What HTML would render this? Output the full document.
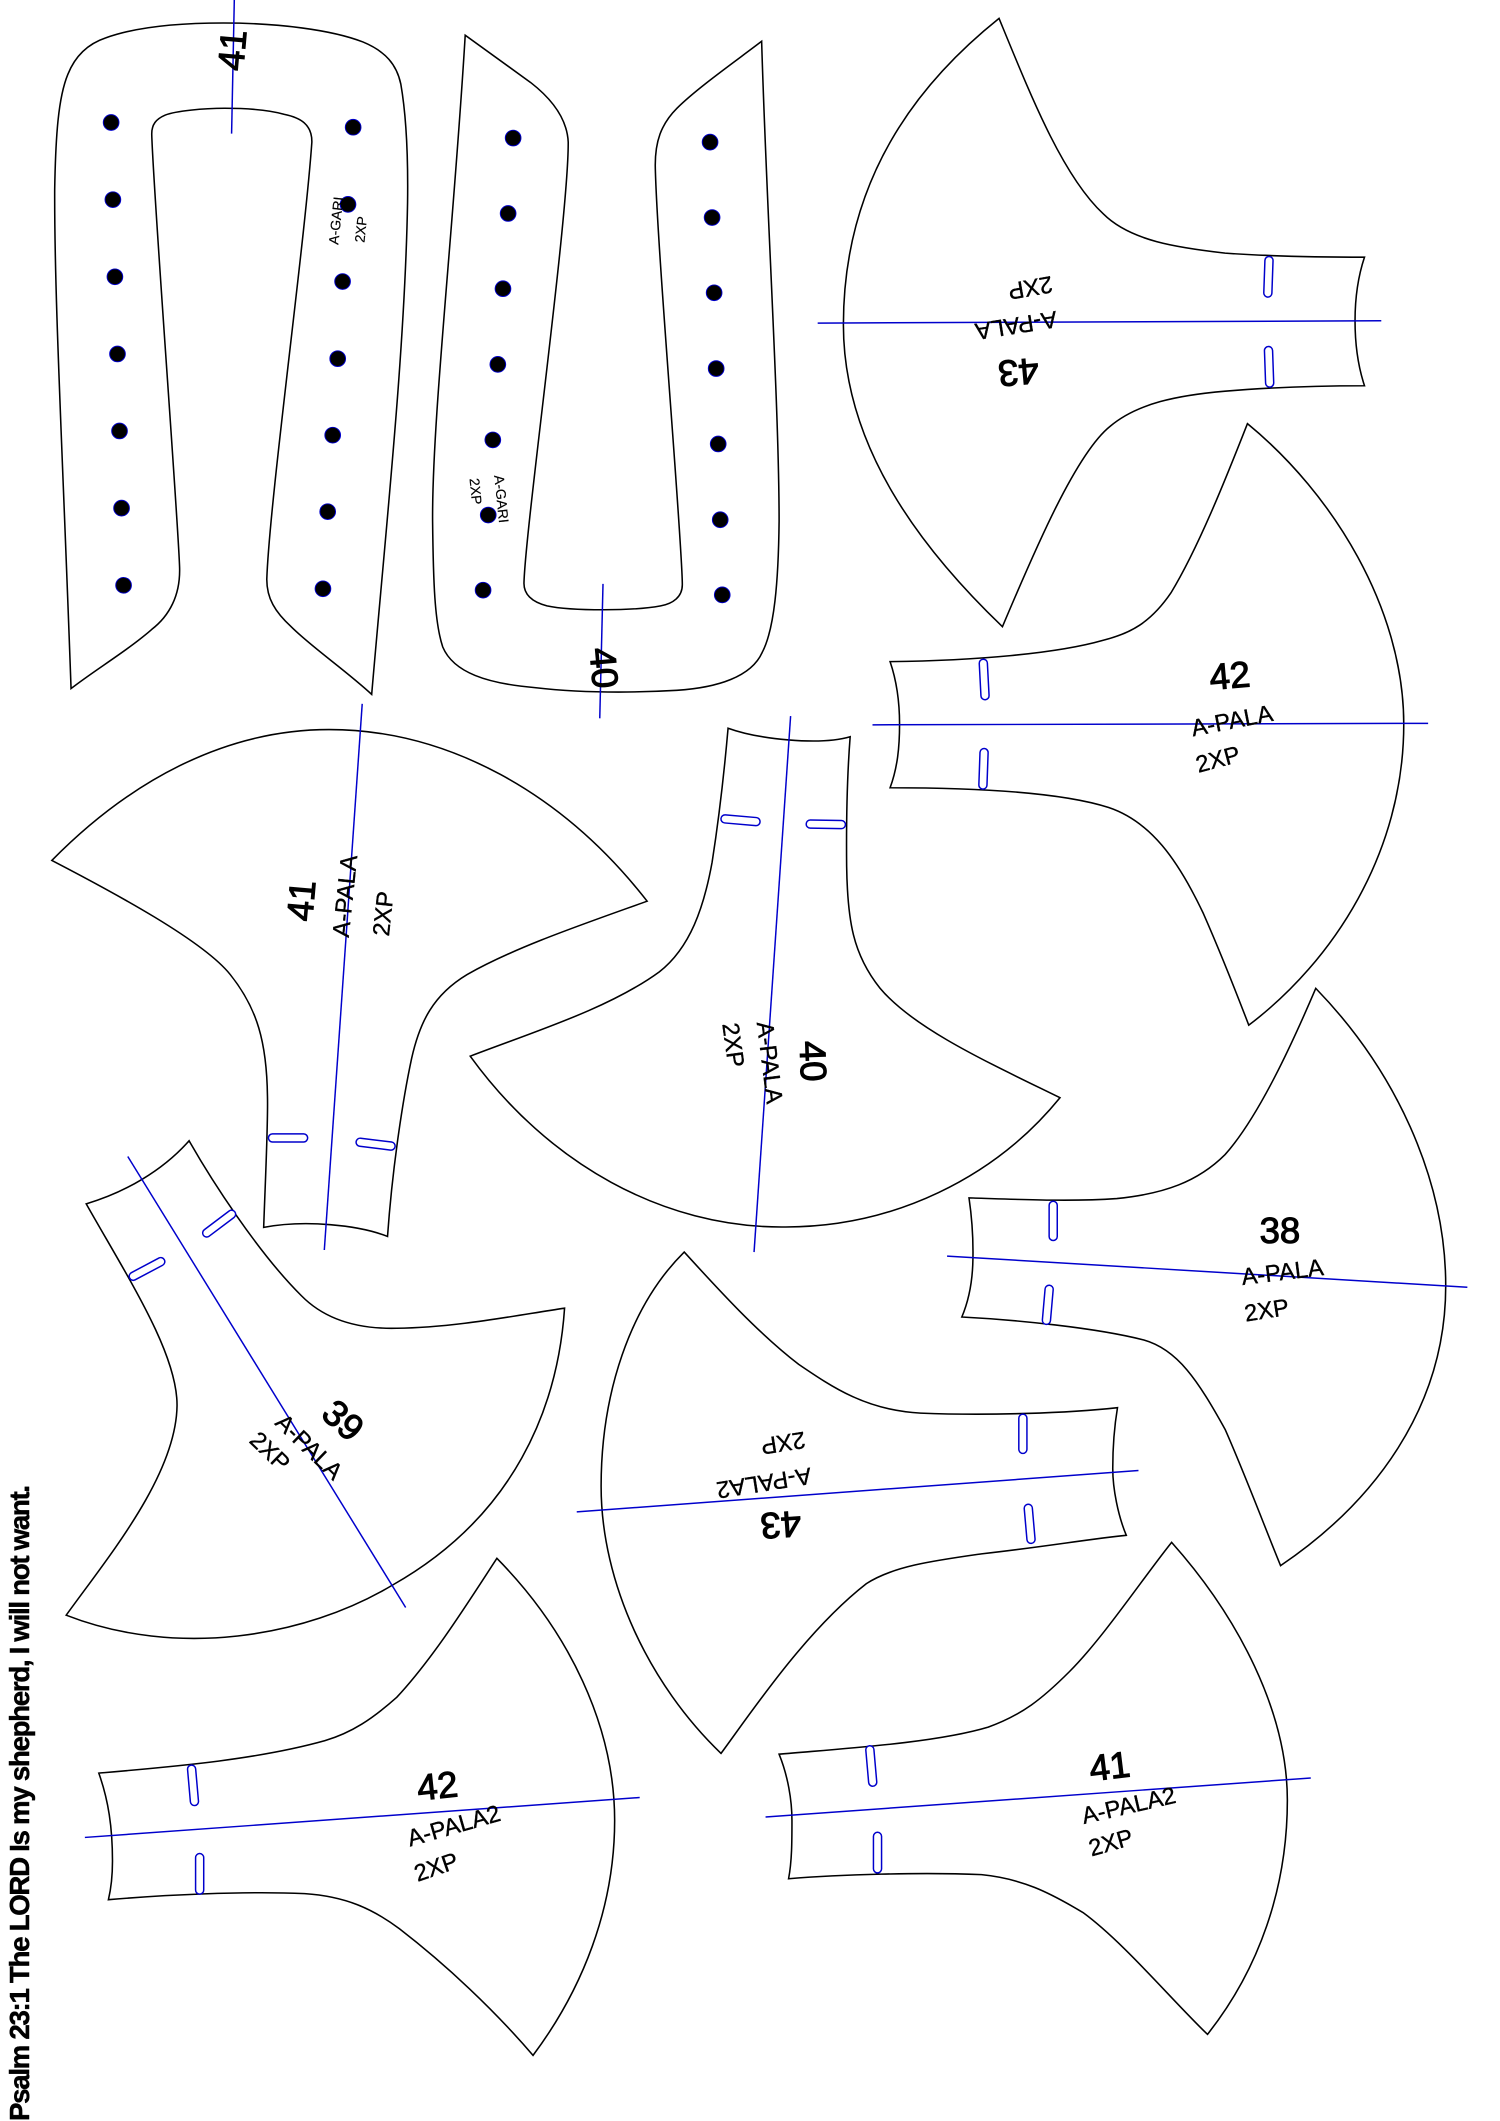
<!DOCTYPE html>
<html><head><meta charset="utf-8"><style>
html,body{margin:0;padding:0;background:#fff}
svg{display:block}
.p{fill:none;stroke:#000;stroke-width:1.15;stroke-linejoin:miter}
.l{stroke:#0000cc;stroke-width:1.1;fill:none}
.d{fill:#000;stroke:#0000cc;stroke-width:.7}
.s{fill:#fff;stroke:#0000cc;stroke-width:1.1}
text{font-family:"Liberation Sans",sans-serif;text-anchor:middle;fill:#000}
.n{font-size:27px;stroke:#000;stroke-width:.8}
.t{font-size:17.5px;stroke:#000;stroke-width:.25}
.g{font-size:10.3px;stroke:#000;stroke-width:.1}
.v{font-size:20.5px;font-weight:bold;text-anchor:start;stroke:#000;stroke-width:.35}
</style></head><body>
<svg xmlns="http://www.w3.org/2000/svg" width="1500" height="2121" viewBox="0 0 1108 1567">
<rect width="1108" height="1567" fill="#fff"/>
<!-- U 41 -->
<path class="p" d="M52.4,508.7 C46,330 40,220 40.3,140 C41,100 43,72 50,55 C56,40 66,32 78,28 C100,20 130,17 165,17 C205,17 245,22 268,31 C285,38 293,48 296,62 C300,85 301.5,115 301,150 C299,260 285,390 274.5,513 C255,495 230,478 215,463 C203,452 197,442 197,428 C199,370 225,180 230.3,105 C230.5,92 222,87 210,84.5 C198,81 180,80 166,80 C150,80 130,82 122,85 C115,88 112,92 112,99 C113,140 132,390 132.6,420 C133,440 125,455 112,465 C95,480 70,495 52.4,508.7Z"/>
<g class="d">
<circle cx="82" cy="90.5" r="5.8"/><circle cx="83.3" cy="147.5" r="5.8"/><circle cx="84.8" cy="204.5" r="5.8"/><circle cx="86.7" cy="261.5" r="5.8"/><circle cx="88.2" cy="318.4" r="5.8"/><circle cx="89.7" cy="375.4" r="5.8"/><circle cx="91.2" cy="432.4" r="5.8"/>
<circle cx="260.8" cy="94" r="5.8"/><circle cx="257" cy="151" r="5.8"/><circle cx="253" cy="208" r="5.8"/><circle cx="249.4" cy="265" r="5.8"/><circle cx="245.7" cy="321.5" r="5.8"/><circle cx="242" cy="378" r="5.8"/><circle cx="238.5" cy="435" r="5.8"/>
</g>
<line class="l" x1="173" y1="0" x2="171" y2="98.7"/>
<text class="n" transform="translate(171,37) rotate(-85)" dy=".36em">41</text>
<text class="g" transform="translate(248,163) rotate(-84)" dy=".36em">A-GARI</text>
<text class="g" transform="translate(266.4,169.5) rotate(-84)" dy=".36em">2XP</text>
<!-- U 40 -->
<path class="p" d="M343.6,26 C335,170 319,310 319.5,385 C320,430 321,460 327,478 C335,497 360,505 395,508 C430,512 465,512 500,510 C530,508 555,500 563,482 C572,465 575,430 575.5,385 C575.5,300 566,150 562.6,30.5 C545,44 515,65 500,80 C488,92 484,105 484,122 C485,180 504,400 504,432 C504,441 497,446 488,447.6 C475,450 460,450.5 446,450.5 C430,450.5 415,450 404,447.6 C394,445 387,440 387,431 C388,390 420,160 419.7,105 C419,90 410,75 392,61 Z"/>
<g class="d">
<circle cx="379" cy="102" r="5.8"/><circle cx="375.3" cy="157.7" r="5.8"/><circle cx="371.5" cy="213.3" r="5.8"/><circle cx="367.7" cy="269.2" r="5.8"/><circle cx="364" cy="325" r="5.8"/><circle cx="360.6" cy="380.5" r="5.8"/><circle cx="356.8" cy="436" r="5.8"/>
<circle cx="524.5" cy="105" r="5.8"/><circle cx="526" cy="160.7" r="5.8"/><circle cx="527.5" cy="216.3" r="5.8"/><circle cx="529" cy="272.3" r="5.8"/><circle cx="530.5" cy="328" r="5.8"/><circle cx="532" cy="384" r="5.8"/><circle cx="533.5" cy="439.5" r="5.8"/>
</g>
<line class="l" x1="445.4" y1="431.4" x2="443" y2="530.7"/>
<text class="n" transform="translate(446.5,493.4) rotate(85)" dy=".36em">40</text>
<text class="g" transform="translate(370.5,368.6) rotate(84)" dy=".36em">A-GARI</text>
<text class="g" transform="translate(351.5,363) rotate(84)" dy=".36em">2XP</text>
<!-- 43 top -->
<path class="p" d="M738,13.6 C680,60 623,130 623,240 C623,330 680,405 740.5,463 C765,405 795,335 820,315 C840,298 870,292 905,289 C940,286 980,285 1008,285 C1003,270 1001,255 1001,237 C1001,220 1003,205 1008,190 C980,190 940,189.5 905,187 C870,183 835,178 815,158 C785,130 762,72 738,13.6Z"/>
<line class="l" x1="604" y1="238.7" x2="1020.4" y2="237"/>
<rect class="s" x="-3" y="-15" width="6" height="30" rx="3" transform="translate(937,204.5) rotate(2)"/>
<rect class="s" x="-3" y="-15" width="6" height="30" rx="3" transform="translate(937.5,271) rotate(-2)"/>
<text class="n" transform="translate(752.4,275.4) rotate(175)" dy=".36em">43</text>
<text class="t" transform="translate(750.7,240.8) rotate(171)" dy=".36em">A-PALA</text>
<text class="t" transform="translate(761.2,213) rotate(170)" dy=".36em">2XP</text>
<!-- 42 top right -->
<path class="p" d="M921.5,313 C905,355 885,405 865,438 C850,460 835,468 815,473 C780,483 720,488 657.5,488.8 C663,505 664.5,520 664.5,535 C664.5,552 663,567 657.5,582 C710,582 780,584 819,596.6 C850,607 870,635 889,675 C900,700 912,730 922.5,757.4 C985,710 1037,630 1037,535 C1037,450 985,365 921.5,313Z"/>
<line class="l" x1="644.5" y1="535.5" x2="1055" y2="534.4"/>
<rect class="s" x="-3" y="-15" width="6" height="30" rx="3" transform="translate(727,502) rotate(-3)"/>
<rect class="s" x="-3" y="-15" width="6" height="30" rx="3" transform="translate(726.5,568) rotate(2)"/>
<text class="n" transform="translate(908.4,498.7) rotate(-5)" dy=".36em">42</text>
<text class="t" transform="translate(910,532) rotate(-11)" dy=".36em">A-PALA</text>
<text class="t" transform="translate(899.6,560.6) rotate(-15)" dy=".36em">2XP</text>
<!-- 41 mid -->
<path class="p" d="M38.2,635.7 C95,578 165,539 243,539 C330,539 415,585 478,665.8 C430,683 380,700 345,720 C320,735 310,755 304,782 C298,810 290,860 286.2,913.5 C265,905 225,901 194.7,906.8 C196,870 198,830 197.5,810 C197,770 190,745 170,720 C150,695 85,660 38.2,635.7Z"/>
<line class="l" x1="267.5" y1="520" x2="239.5" y2="923.5"/>
<rect class="s" x="-14.5" y="-3" width="29" height="6" rx="3" transform="translate(212.7,840.7)"/>
<rect class="s" x="-14.5" y="-3" width="29" height="6" rx="3" transform="translate(277.4,845.3) rotate(7)"/>
<text class="n" transform="translate(222,665.4) rotate(-85)" dy=".36em">41</text>
<text class="t" transform="translate(254.4,662) rotate(-84)" dy=".36em">A-PALA</text>
<text class="t" transform="translate(282.7,675) rotate(-84)" dy=".36em">2XP</text>
<!-- 40 mid -->
<path class="p" d="M537.8,538 C560,546 605,551 628,544.3 C626,570 625,600 625.4,640 C626,680 630,705 650,730 C675,760 730,785 783,811 C735,870 660,907 578.7,906.5 C490,907 405,860 347.3,780.3 C395,762 450,745 487,718 C510,700 520,670 526,637 C531,605 535,570 537.8,538Z"/>
<line class="l" x1="584" y1="529" x2="557" y2="925"/>
<rect class="s" x="-14.5" y="-3" width="29" height="6" rx="3" transform="translate(547,606) rotate(5)"/>
<rect class="s" x="-14.5" y="-3" width="29" height="6" rx="3" transform="translate(610,609) rotate(1)"/>
<text class="n" transform="translate(601,784) rotate(88)" dy=".36em">40</text>
<text class="t" transform="translate(569,785) rotate(83)" dy=".36em">A-PALA</text>
<text class="t" transform="translate(542,772) rotate(82)" dy=".36em">2XP</text>
<!-- 39 -->
<path class="p" d="M63.6,889.4 C92,881 120,865 139.6,842.8 C155,870 190,925 222.6,957.3 C240,975 265,982 293,981.3 C335,981 380,972 417,966.5 C412,1040 380,1120 290,1171 C225,1210 130,1225 48.8,1193.3 C80,1150 130,1090 130.7,1038.5 C131,1000 95,945 63.6,889.4Z"/>
<line class="l" x1="94.3" y1="854.4" x2="299.6" y2="1187.6"/>
<rect class="s" x="-14.5" y="-3" width="29" height="6" rx="3" transform="translate(161.8,904) rotate(-37)"/>
<rect class="s" x="-14.5" y="-3" width="29" height="6" rx="3" transform="translate(108.5,937.5) rotate(-28)"/>
<text class="n" transform="translate(253.7,1049) rotate(42)" dy=".36em">39</text>
<text class="t" transform="translate(228.6,1068.6) rotate(44)" dy=".36em">A-PALA</text>
<text class="t" transform="translate(199.6,1072) rotate(44)" dy=".36em">2XP</text>
<!-- 38 -->
<path class="p" d="M972,730.2 C955,770 930,825 905,853 C885,873 860,882 825,885.5 C790,888 750,886 715.8,885 C718,900 719,915 718.7,930 C718.5,945 716,960 710.5,973 C750,975 810,981 845,990 C870,997 885,1020 905,1056 C920,1090 935,1130 946,1156.7 C1015,1110 1068,1040 1068,950 C1068,870 1030,790 972,730.2Z"/>
<line class="l" x1="699.6" y1="928" x2="1084" y2="951"/>
<rect class="s" x="-3" y="-14.5" width="6" height="29" rx="3" transform="translate(778,902)"/>
<rect class="s" x="-3" y="-14.5" width="6" height="29" rx="3" transform="translate(774,964) rotate(5)"/>
<text class="n" transform="translate(945.5,908.6)" dy=".36em">38</text>
<text class="t" transform="translate(947.3,939.4) rotate(-7)" dy=".36em">A-PALA</text>
<text class="t" transform="translate(935.6,967.6) rotate(-9)" dy=".36em">2XP</text>
<!-- 43 lower -->
<path class="p" d="M505.4,925 C465,965 444,1030 444,1098 C444,1170 480,1245 532.6,1295.4 C555,1265 595,1205 640,1170 C660,1157 690,1153 725,1148 C770,1143 805,1137 832,1134.3 C826,1120 822,1100 822,1085 C822,1070 823,1055 825.5,1040 C790,1044 730,1046 680,1044 C640,1042 615,1025 590,1008 C560,985 530,952 505.4,925Z"/>
<line class="l" x1="426" y1="1117" x2="841" y2="1086.4"/>
<rect class="s" x="-3" y="-14.5" width="6" height="29" rx="3" transform="translate(755.6,1059.3)"/>
<rect class="s" x="-3" y="-14.5" width="6" height="29" rx="3" transform="translate(760.6,1125.8) rotate(-5)"/>
<text class="n" transform="translate(576.8,1127) rotate(176)" dy=".36em">43</text>
<text class="t" transform="translate(564.4,1096) rotate(171)" dy=".36em">A-PALA2</text>
<text class="t" transform="translate(578.6,1066.5) rotate(171)" dy=".36em">2XP</text>
<!-- 42 bottom left -->
<path class="p" d="M367,1151.3 C345,1185 320,1225 293,1254 C275,1270 260,1280 240,1286 C190,1300 130,1305 72.9,1310 C80,1330 83,1350 83,1375 C83,1385 82,1395 80,1403.5 C120,1400 180,1397 225,1399 C255,1401 275,1410 295,1425 C330,1452 365,1485 393.7,1518.5 C430,1470 454,1410 454,1345 C454,1275 420,1205 367,1151.3Z"/>
<line class="l" x1="62.6" y1="1357.5" x2="472.5" y2="1328"/>
<rect class="s" x="-3" y="-15" width="6" height="30" rx="3" transform="translate(142.5,1319) rotate(-5)"/>
<rect class="s" x="-3" y="-15" width="6" height="30" rx="3" transform="translate(147.4,1384.4)"/>
<text class="n" transform="translate(323,1319) rotate(-6)" dy=".36em">42</text>
<text class="t" transform="translate(335,1348.5) rotate(-16)" dy=".36em">A-PALA2</text>
<text class="t" transform="translate(322,1379) rotate(-19)" dy=".36em">2XP</text>
<!-- 41 bottom right -->
<path class="p" d="M865.5,1139.5 C845,1165 815,1210 790,1235 C770,1255 755,1267 730,1276 C690,1288 620,1292 575.5,1296 C582,1312 585,1330 585,1345 C585,1360 585,1375 582.5,1388 C620,1385 680,1383 725,1385 C755,1388 775,1398 800,1413 C830,1435 865,1477 892,1503 C930,1455 951,1395 951,1330 C951,1265 915,1195 865.5,1139.5Z"/>
<line class="l" x1="565.5" y1="1342.4" x2="968.3" y2="1313.6"/>
<rect class="s" x="-3" y="-15" width="6" height="30" rx="3" transform="translate(643.6,1304.7) rotate(-5)"/>
<rect class="s" x="-3" y="-15" width="6" height="30" rx="3" transform="translate(648.2,1368.7)"/>
<text class="n" transform="translate(819.6,1304.5) rotate(-7)" dy=".36em">41</text>
<text class="t" transform="translate(833.7,1333.5) rotate(-13)" dy=".36em">A-PALA2</text>
<text class="t" transform="translate(820.5,1361) rotate(-16)" dy=".36em">2XP</text>
<!-- vertical -->
<text class="v" transform="translate(21.5,1567) rotate(-90)" textLength="470" lengthAdjust="spacing">Psalm 23:1 The LORD Is my shepherd, I will not want.</text>
</svg>
</body></html>
